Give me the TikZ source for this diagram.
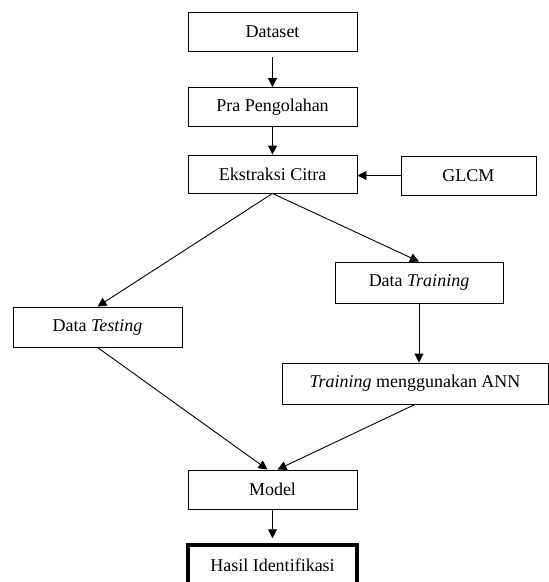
\documentclass[tikz,border=0pt]{standalone}
\usepackage{fontspec}
\setmainfont{Liberation Serif}
\usetikzlibrary{arrows.meta}

\tikzset{
  flowbox/.style={draw, rectangle, black, line width=0.9pt, minimum width=169pt, minimum height=39pt, inner sep=0pt, text centered, font=\fontsize{18}{21}\selectfont},
  flowline/.style={black, line width=0.9pt, ->},
}

\begin{document}
\begin{tikzpicture}[x=1pt, y=-1pt, >={Triangle[length=9pt, width=9pt]}]
            \useasboundingbox (0,0) rectangle (549,582);
            \node[flowbox] (Dataset) at (272.5,31.5) {Dataset};
            \node[flowbox] (Pra) at (272.5,107) {Pra Pengolahan};
            \node[flowbox, minimum height=38pt] (Ekstraksi) at (272.5,174) {Ekstraksi Citra};
            \node[flowbox, minimum width=135pt] (GLCM) at (468.5,175.5) {GLCM};
            \node[flowbox, minimum height=40pt] (Testing) at (97.5,327) {Data \textit{Testing}};
            \node[flowbox, minimum width=168pt, minimum height=41pt] (Training) at (419,282.5) {Data \textit{Training}};
            \node[flowbox, minimum width=266pt, minimum height=41pt] (ANN) at (415,383.5) {\textit{Training} menggunakan ANN};
            \node[flowbox] (Model) at (272.5,489.5) {Model};
            \node[flowbox, line width=3.5pt, minimum height=40pt] (Hasil) at (272.5,565) {Hasil Identifikasi};
            \draw[flowline, shorten <=6pt](Dataset.south) -- (Pra.north);
            \draw[flowline](Pra.south) -- (Ekstraksi.north);
            \draw[flowline](GLCM.west) -- (GLCM.west -| Ekstraksi.east);
            \draw[flowline](Ekstraksi.south) -- (Testing.north);
            \draw[flowline](Ekstraksi.south) -- (Training.north);
            \draw[flowline](Training.south) -- (Training.south |- ANN.north);
            \draw[flowline](Testing.south) -- ([xshift=-5pt]Model.north);
            \draw[flowline](ANN.south) -- ([xshift=5pt]Model.north);
            \draw[flowline, shorten >=5pt](Model.south) -- (Hasil.north);
\end{tikzpicture}
\end{document}
